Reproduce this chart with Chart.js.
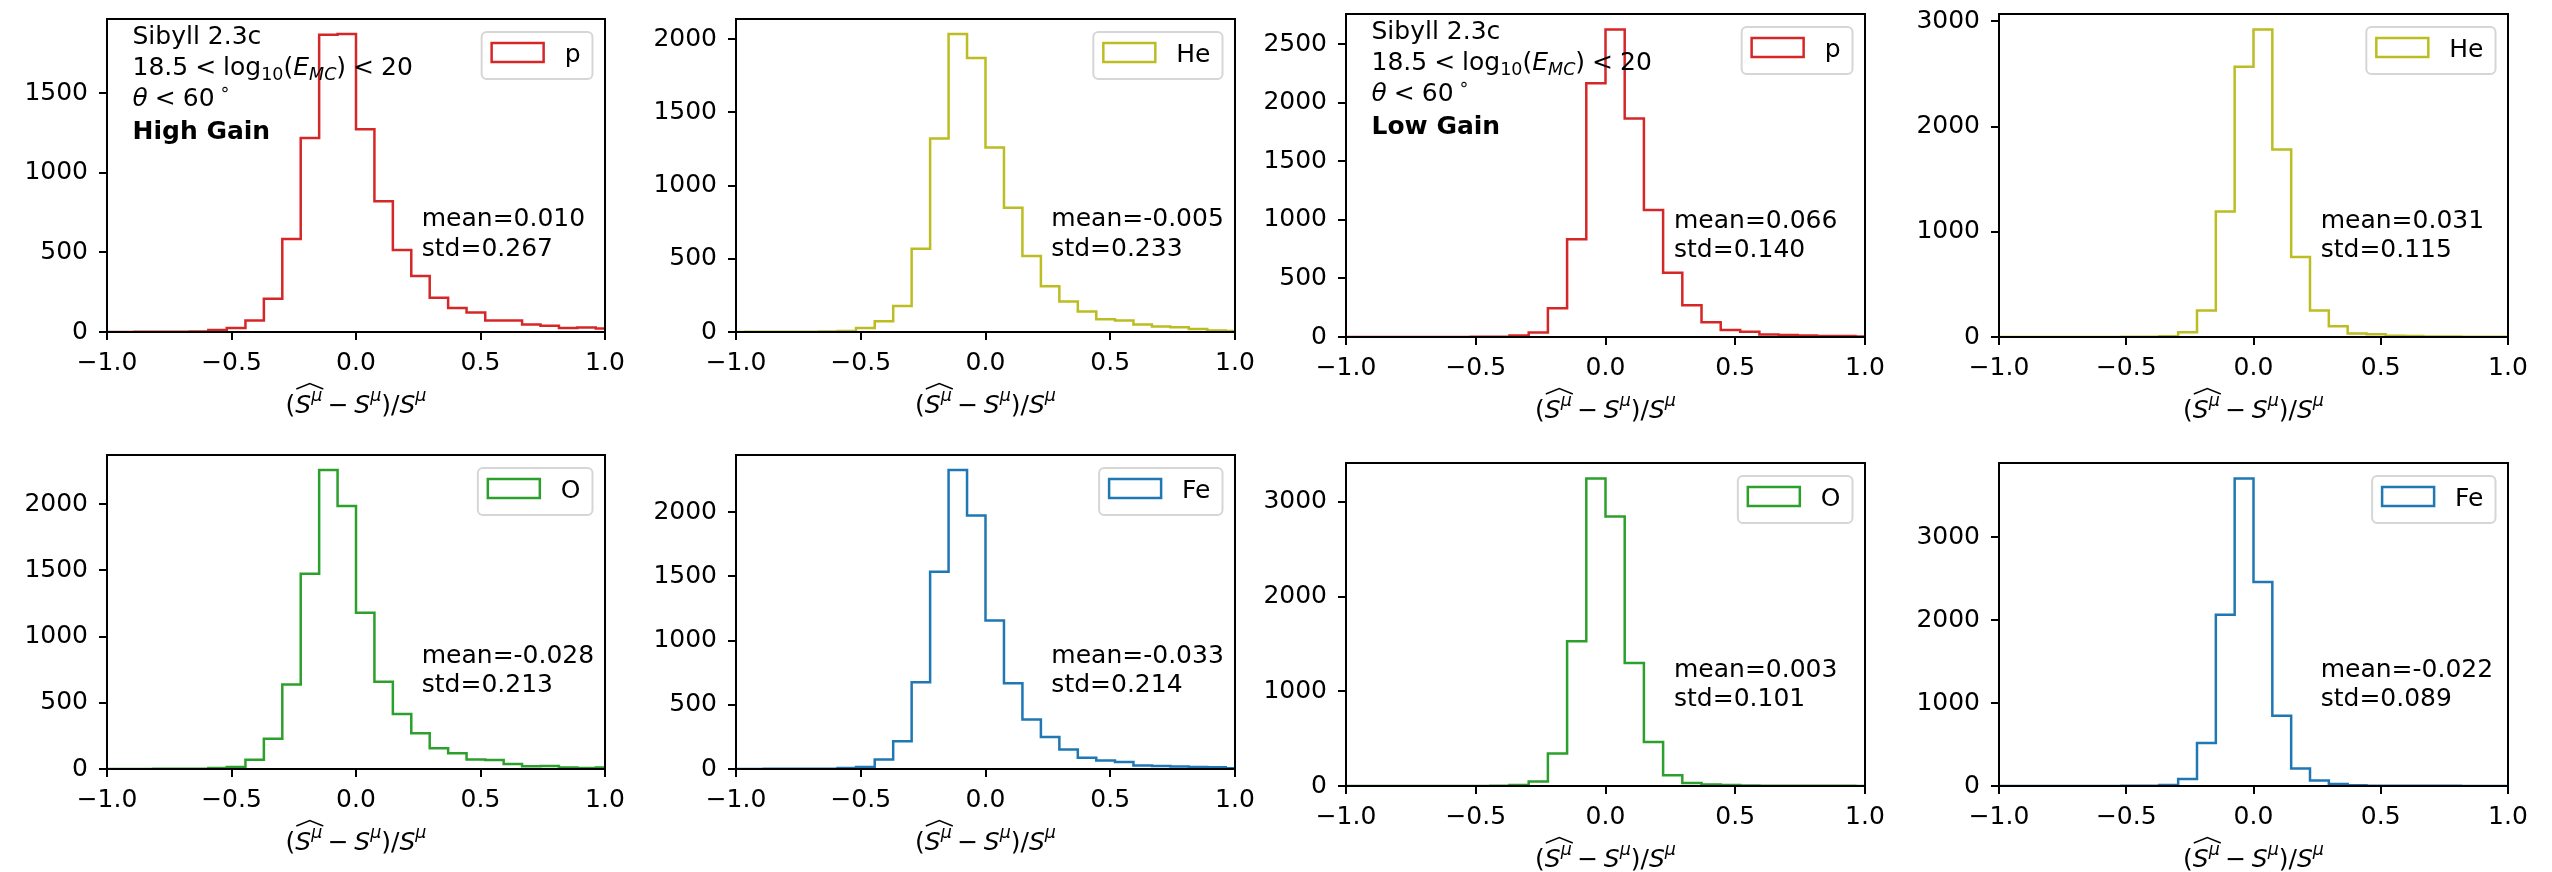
<!DOCTYPE html>
<html>
<head>
<meta charset="utf-8">
<script src="https://cdn.jsdelivr.net/npm/chart.js@4.4.1/dist/chart.umd.min.js"></script>
<style>
  html, body { margin: 0; padding: 0; background: #fff; }
  #fig { position: relative; width: 2552px; height: 872px; overflow: hidden; background: #fff; }
  #fig canvas { position: absolute; }
</style>
</head>
<body>
<div id="fig"></div>
<script>
// histogram bins: width 2/27, one edge sitting on 0
const binEdges = [-1.037, -0.963, -0.889, -0.815, -0.741, -0.667, -0.593, -0.519, -0.444, -0.370,
  -0.296, -0.222, -0.148, -0.074, 0.000, 0.074, 0.148, 0.222, 0.296, 0.370,
  0.444, 0.519, 0.593, 0.667, 0.741, 0.815, 0.889, 0.963, 1.037];

// counts per bin - high gain
const countsHighP  = [0, 0, 1, 1, 2, 3, 12, 25, 72, 209, 584, 1217, 1865, 1871, 1272, 820, 514, 352, 215, 150, 123, 72, 72, 47, 39, 25, 29, 22];
const countsHighHe = [0, 1, 1, 2, 2, 3, 7, 27, 73, 178, 568, 1321, 2035, 1871, 1260, 848, 519, 312, 209, 140, 87, 78, 51, 38, 33, 20, 11, 7];
const countsHighO  = [0, 0, 0, 1, 1, 2, 7, 15, 69, 228, 637, 1474, 2257, 1985, 1180, 659, 416, 270, 156, 119, 72, 67, 37, 20, 22, 12, 7, 12];
const countsHighFe = [0, 0, 1, 1, 2, 2, 8, 15, 74, 217, 676, 1536, 2329, 1974, 1156, 668, 385, 250, 151, 87, 66, 54, 28, 23, 20, 15, 13, 5];

// counts per bin - low gain
const countsLowP  = [0, 0, 0, 0, 1, 1, 1, 2, 3, 12, 39, 246, 834, 2167, 2626, 1865, 1084, 549, 272, 126, 59, 45, 22, 17, 12, 8, 8, 5];
const countsLowHe = [0, 0, 0, 0, 0, 1, 1, 2, 3, 8, 44, 252, 1194, 2568, 2924, 1783, 761, 252, 103, 34, 25, 12, 9, 5, 4, 3, 3, 2];
const countsLowO  = [0, 0, 0, 0, 0, 0, 1, 1, 3, 10, 48, 343, 1528, 3249, 2847, 1299, 464, 114, 31, 17, 10, 5, 3, 3, 2, 2, 2, 1];
const countsLowFe = [0, 0, 0, 0, 0, 1, 1, 2, 4, 12, 83, 518, 2063, 3708, 2459, 846, 210, 67, 24, 8, 4, 3, 2, 2, 2, 1, 1, 1];

// panels, row by row
const panelCounts = [countsHighP, countsHighHe, countsLowP, countsLowHe, countsHighO, countsHighFe, countsLowO, countsLowFe];
const panelLabels = ['p', 'He', 'p', 'He', 'O', 'Fe', 'O', 'Fe'];
const panelMeans  = ['0.010', '-0.005', '0.066', '0.031', '-0.028', '-0.033', '0.003', '-0.022'];
const panelStds   = ['0.267', '0.233', '0.140', '0.115', '0.213', '0.214', '0.101', '0.089'];
const gainTitles  = ['High Gain', null, 'Low Gain', null, null, null, null, null];
const yTickSteps  = [500, 500, 500, 1000, 500, 500, 1000, 1000];

const xTickValues = [-1, -0.5, 0, 0.5, 1];
const xTickLabels = ['\u22121.0', '\u22120.5', '0.0', '0.5', '1.0'];

const particleColors = { p: '#d62728', He: '#bcbd22', O: '#2ca02c', Fe: '#1f77b4' };

// axes rectangles on the page: left, top, right, bottom
const plotBoxes = [
  [107, 13, 605, 332], [736, 13, 1235, 332], [1346, 8, 1865, 337], [1999, 8, 2508, 337],
  [107, 449, 605, 769], [736, 449, 1235, 769], [1346, 457, 1865, 786], [1999, 457, 2508, 786]
];

const FAMILY = '"DejaVu Sans", "Liberation Sans", sans-serif';
const FS = 25;
const AX_W = 110, AX_H = 110, PAD_T = 20, PAD_R = 40;

function font(size, style) {
  const pre = style === 'i' ? 'italic ' : style === 'b' ? 'bold ' : '';
  return pre + size + 'px ' + FAMILY;
}

// tiny mathtext-ish renderer: runs of text with italic / sub / superscript
function drawRuns(ctx, runs, x, y, align) {
  let w = 0;
  const items = [];
  for (const r of runs) {
    const size = FS * (r.k || 1);
    ctx.font = font(size, r.s);
    w += (r.pre || 0) * FS;
    const tw = ctx.measureText(r.t).width;
    items.push({ r, size, x: w, w: tw });
    w += tw + (r.post || 0) * FS;
  }
  const x0 = align === 'center' ? x - w / 2 : x;
  ctx.textAlign = 'left';
  ctx.textBaseline = 'alphabetic';
  ctx.fillStyle = '#000';
  for (const it of items) {
    ctx.font = font(it.size, it.r.s);
    it.x += x0;
    ctx.fillText(it.r.t, it.x, y - (it.r.dy || 0) * FS);
  }
  return items;
}

const SUP = { k: 0.7, dy: 0.5, s: 'i' };
const xLabelRuns = [
  { t: '(' }, { t: 'S', s: 'i' }, { t: '\u03bc', ...SUP },
  { t: '\u2212', pre: 0.22, post: 0.22 },
  { t: 'S', s: 'i' }, { t: '\u03bc', ...SUP }, { t: ')' }, { t: '/' },
  { t: 'S', s: 'i' }, { t: '\u03bc', ...SUP }
];

function headerRuns(gain) {
  return [
    [{ t: 'Sibyll 2.3c' }],
    [{ t: '18.5' }, { t: '<', pre: 0.28, post: 0.28 }, { t: 'log' }, { t: '10', k: 0.7, dy: -0.22 },
     { t: '(' }, { t: 'E', s: 'i' }, { t: 'MC', s: 'i', k: 0.7, dy: -0.22 }, { t: ')' },
     { t: '<', pre: 0.28, post: 0.28 }, { t: '20' }],
    [{ t: '\u03b8', s: 'i' }, { t: '<', pre: 0.28, post: 0.28 }, { t: '60' }, { t: '\u2218', k: 0.7, dy: 0.45, pre: 0.2 }],
    [{ t: gain, s: 'b' }]
  ];
}
const headerBaselines = [24.5, 55.5, 87, 120];

function roundRect(ctx, x, y, w, h, r) {
  ctx.beginPath();
  ctx.moveTo(x + r, y);
  ctx.arcTo(x + w, y, x + w, y + h, r);
  ctx.arcTo(x + w, y + h, x, y + h, r);
  ctx.arcTo(x, y + h, x, y, r);
  ctx.arcTo(x, y, x + w, y, r);
  ctx.closePath();
}

const panelDecor = {
  id: 'panelDecor',
  afterDatasetsDraw(chart) {
    const a = chart.chartArea, ctx = chart.ctx;
    ctx.save();
    ctx.strokeStyle = '#000';
    ctx.lineWidth = 2;
    ctx.strokeRect(a.left, a.top, a.right - a.left, a.bottom - a.top);
    ctx.restore();
  },
  afterDraw(chart, args, opts) {
    const a = chart.chartArea, ctx = chart.ctx;
    const i = opts.index;
    const w = a.right - a.left, h = a.bottom - a.top;
    ctx.save();

    // legend box, top right
    const label = panelLabels[i];
    ctx.font = font(FS);
    const tw = ctx.measureText(label).width;
    const lw = 10 + 52 + 21 + tw + 12, lh = 47;
    const lx = a.right - 12.5 - lw, ly = a.top + 13;
    roundRect(ctx, lx, ly, lw, lh, 5);
    ctx.fillStyle = 'rgba(255,255,255,0.8)';
    ctx.fill();
    ctx.strokeStyle = '#d6d6d6';
    ctx.lineWidth = 2;
    ctx.stroke();
    ctx.strokeStyle = particleColors[label];
    ctx.lineWidth = 2.5;
    ctx.strokeRect(lx + 10, ly + 11, 52, 19);
    ctx.fillStyle = '#000';
    ctx.textAlign = 'left';
    ctx.textBaseline = 'alphabetic';
    ctx.fillText(label, lx + 83, ly + 30);

    // mean / std
    const sx = a.left + 0.632 * w, sy = a.top + 0.662 * h;
    ctx.fillText('mean=' + panelMeans[i], sx, sy);
    ctx.fillText('std=' + panelStds[i], sx, sy + 29.5);

    // selection text, top left
    if (gainTitles[i]) {
      headerRuns(gainTitles[i]).forEach((runs, k) => {
        drawRuns(ctx, runs, a.left + 25.5, a.top + headerBaselines[k], 'left');
      });
    }

    // x axis label with the wide hat over the first S^mu
    const by = a.bottom + 81;
    const items = drawRuns(ctx, xLabelRuns, (a.left + a.right) / 2, by, 'center');
    const hx0 = items[1].x + 1, hx1 = items[2].x + items[2].w + 1;
    ctx.beginPath();
    ctx.moveTo(hx0, by - 24);
    ctx.lineTo((hx0 + hx1) / 2, by - 29.5);
    ctx.lineTo(hx1, by - 24);
    ctx.strokeStyle = '#000';
    ctx.lineWidth = 1.4;
    ctx.stroke();

    ctx.restore();
  }
};

function stepPoints(counts) {
  const last = binEdges.length - 1;
  const pts = [{ x: binEdges[0], y: 0 }];
  counts.forEach((c, j) => pts.push({ x: binEdges[j], y: c }));
  pts.push({ x: binEdges[last], y: counts[counts.length - 1] });
  pts.push({ x: binEdges[last], y: 0 });
  return pts;
}

const tickFont = { family: FAMILY, size: FS };
const axisGrid = { drawOnChartArea: false, drawTicks: true, tickLength: 8, color: '#000', lineWidth: 2 };
const axisBorder = { display: true, color: '#000', width: 2 };

const fig = document.getElementById('fig');

plotBoxes.forEach((box, i) => {
  const [l, t, r, b] = box;
  const W = (r - l) + AX_W + PAD_R, H = (b - t) + PAD_T + AX_H;
  const canvas = document.createElement('canvas');
  canvas.width = W;
  canvas.height = H;
  canvas.style.left = (l - AX_W) + 'px';
  canvas.style.top = (t - PAD_T) + 'px';
  canvas.style.width = W + 'px';
  canvas.style.height = H + 'px';
  fig.appendChild(canvas);

  const counts = panelCounts[i];
  const yMax = Math.max(...counts) * 1.05;
  const yTicks = [];
  for (let v = 0; v <= yMax; v += yTickSteps[i]) yTicks.push(v);

  new Chart(canvas, {
    type: 'line',
    data: {
      datasets: [{
        data: stepPoints(counts),
        borderColor: particleColors[panelLabels[i]],
        borderWidth: 2.5,
        pointRadius: 0,
        stepped: 'before',
        fill: false,
        tension: 0
      }]
    },
    options: {
      responsive: false,
      animation: false,
      devicePixelRatio: 1,
      layout: { padding: { left: 0, top: PAD_T, right: PAD_R, bottom: 0 } },
      plugins: {
        legend: { display: false },
        tooltip: { enabled: false },
        panelDecor: { index: i }
      },
      scales: {
        x: {
          type: 'linear',
          min: -1,
          max: 1,
          afterFit: (s) => { s.height = AX_H; },
          afterBuildTicks: (s) => { s.ticks = xTickValues.map(v => ({ value: v })); },
          ticks: {
            font: tickFont, color: '#000', padding: 8, maxRotation: 0, autoSkip: false,
            callback: (v, idx) => xTickLabels[idx]
          },
          grid: axisGrid,
          border: axisBorder
        },
        y: {
          min: 0,
          max: yMax,
          afterFit: (s) => { s.width = AX_W; },
          afterBuildTicks: (s) => { s.ticks = yTicks.map(v => ({ value: v })); },
          ticks: { font: tickFont, color: '#000', padding: 11, callback: (v) => String(v) },
          grid: axisGrid,
          border: axisBorder
        }
      }
    },
    plugins: [panelDecor]
  });
});
</script>
</body>
</html>
